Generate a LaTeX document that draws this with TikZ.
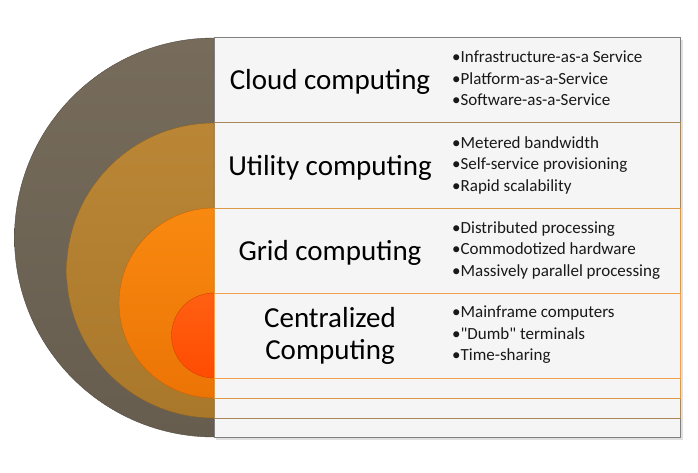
\documentclass[tikz,border=0pt]{standalone}
\usepackage{fontspec}
\newfontfamily\carlito{Carlito}
\usepackage{tikz}

\definecolor{cloudtop}{HTML}{776C5B}
\definecolor{cloudbot}{HTML}{665D4F}
\definecolor{utiltop}{HTML}{BA8636}
\definecolor{utilbot}{HTML}{AA782B}
\definecolor{gridtop}{HTML}{F88910}
\definecolor{gridbot}{HTML}{EC7405}
\definecolor{centtop}{HTML}{FF6012}
\definecolor{centbot}{HTML}{FF4C02}
\definecolor{panel}{HTML}{F5F5F5}
\definecolor{utilline}{HTML}{A8875A}
\definecolor{gridline}{HTML}{DC9A48}
\definecolor{centline}{HTML}{F2A050}

\begin{document}
\begin{tikzpicture}[x=1pt,y=1pt,
  title/.style={font=\carlito\fontsize{29}{32}\selectfont, anchor=base, align=center},
  items/.style={font=\carlito\fontsize{17}{21.5}\selectfont, anchor=north west, align=left, inner sep=0pt, text=black!90}]
\useasboundingbox (0,0) rectangle (698,472);
% rings
\path [draw=cloudbot!80!black, top color=cloudtop, bottom color=cloudbot] (214,434) arc (90:270:199.5) -- cycle;
\path [draw=utilbot!80!black, top color=utiltop, bottom color=utilbot] (214,349) arc (90:270:147.5) -- cycle;
\path [draw=gridbot!85!black, top color=gridtop, bottom color=gridbot] (214,264) arc (90:270:95) -- cycle;
\path [draw=centbot!85!black, top color=centtop, bottom color=centbot] (214,179) arc (90:270:42.5) -- cycle;
% panels
\path [fill=black!12] (216,32) rectangle (683,432);
\path [draw=black!50, line width=1pt, fill=panel] (214,35) rectangle (680,434);
\path [draw=utilline, line width=1pt, fill=panel] (214,54) rectangle (680,349);
\path [draw=gridline, line width=1pt, fill=panel] (214,74) rectangle (680,264);
\path [draw=centline, line width=1pt, fill=panel] (214,94) rectangle (680,179);
% titles
\path (330,382) node (cloud) [title] {Cloud computing};
\path (330,297) node (utility) [title] {Utility computing};
\path (330,212) node (grid) [title] {Grid computing};
\path (330,113) node (central) [title] {Centralized\\Computing};
% bullet lists
\path (452,421) node (cloudlist) [items] {•Infrastructure-as-a Service\\•Platform-as-a-Service\\•Software-as-a-Service};
\path (452,336) node (utilitylist) [items] {•Metered bandwidth\\•Self-service provisioning\\•Rapid scalability};
\path (452,251) node (gridlist) [items] {•Distributed processing\\•Commodotized hardware\\•Massively parallel processing};
\path (452,166) node (centrallist) [items] {•Mainframe computers\\•"Dumb" terminals\\•Time-sharing};
\end{tikzpicture}
\end{document}
